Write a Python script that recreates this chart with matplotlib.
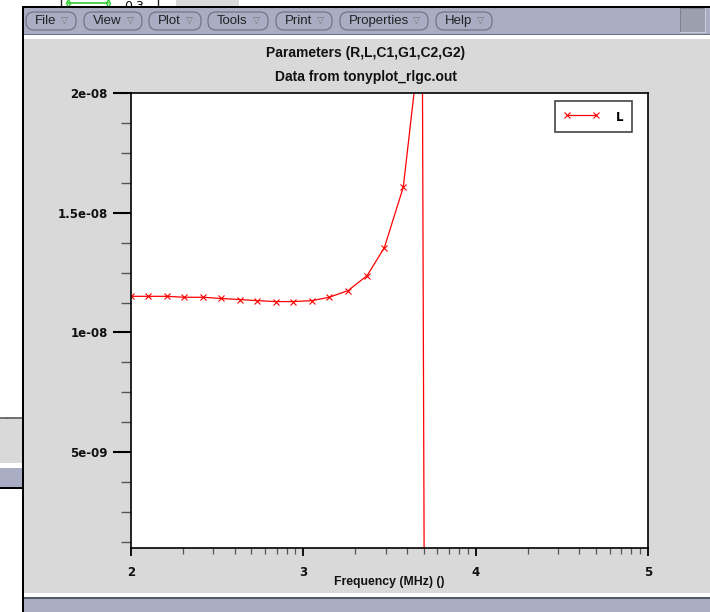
import matplotlib
matplotlib.use('Agg')
import matplotlib.pyplot as plt
from matplotlib.patches import Rectangle, FancyBboxPatch
from matplotlib.ticker import FixedLocator, MultipleLocator
import numpy as np

# ---------------- data ----------------
freq_mhz = [2.00, 2.10, 2.21, 2.31, 2.42, 2.52, 2.63, 2.73, 2.84, 2.94,
            3.05, 3.15, 3.26, 3.37, 3.47, 3.58, 3.69, 3.79]
L_values = [1.151e-8, 1.151e-8, 1.151e-8, 1.147e-8, 1.147e-8, 1.142e-8,
            1.1375e-8, 1.133e-8, 1.129e-8, 1.129e-8, 1.133e-8, 1.147e-8,
            1.175e-8, 1.2375e-8, 1.354e-8, 1.607e-8, 2.30e-8, -1.8e-7]
x_ticks = [2, 3, 4, 5]
x_tick_labels = ['2', '3', '4', '5']
y_ticks = [5e-9, 1e-8, 1.5e-8, 2e-8]
y_tick_labels = ['5e-09', '1e-08', '1.5e-08', '2e-08']
menu_items = ['File', 'View', 'Plot', 'Tools', 'Print', 'Properties', 'Help']
title_1 = 'Parameters (R,L,C1,G1,C2,G2)'
title_2 = 'Data from tonyplot_rlgc.out'
x_label = 'Frequency (MHz) ()'
series_label = 'L'

# ---------------- figure / chrome ----------------
W, H = 710, 612
fig = plt.figure(figsize=(W / 100, H / 100), dpi=100, facecolor='white')
bg = fig.add_axes([0, 0, 1, 1], zorder=0)
bg.set_xlim(0, W)
bg.set_ylim(H, 0)
bg.axis('off')

LAV = '#a9adc3'
GREY = '#d9d9d9'


def rect(x0, y0, x1, y1, color, z=1, **kw):
    bg.add_patch(Rectangle((x0, y0), x1 - x0, y1 - y0, facecolor=color,
                           edgecolor='none', zorder=z, **kw))


# stuff of a window behind (top-left)
bg.plot([61, 61], [0, 7], color='#222', lw=1, zorder=0.5)
bg.plot([68, 108], [3, 3], color='#33cc33', lw=1.2, zorder=0.5)
bg.plot([68, 108], [3, 3], ls='none', marker='d', ms=4, mfc='none',
        mec='#33cc33', zorder=0.5)
bg.text(124, 10, '0.3', fontsize=9, family='DejaVu Sans', va='baseline',
        color='#111', zorder=0.5)
bg.plot([158, 158], [0, 7], color='#222', lw=1, zorder=0.5)
rect(176, 0, 239, 7, GREY, z=0.5)

# left strip of another window
bg.plot([0, 22], [418, 418], color='#555', lw=1.2, zorder=0.5)
bg.plot([7, 7], [418, 424], color='#555', lw=1, zorder=0.5)
rect(0, 419, 22, 463, GREY, z=0.5)
rect(0, 468, 22, 487, LAV, z=0.5)
rect(0, 487, 22, 489, 'black', z=0.5)

# main window
rect(22, 6, W, H, GREY)
rect(22, 6, W, 8, 'black')
rect(22, 8, W, 33.5, LAV)
rect(22, 33.5, W, 35, '#6e7182')
rect(22, 35, W, 39, 'white')
rect(22, 593, W, 597, 'white')
rect(22, 597, W, 598.5, '#555866')
rect(22, 598.5, W, H, LAV)
rect(21.5, 6, 24, H, 'black')

# top-right square button
rect(680, 8, 706, 33, '#c9ccd8')
rect(680, 8, 705, 32, '#7d8192')
rect(681, 9, 705, 32, '#9aa0ae')

# menu buttons
btn_x = [(26, 76), (84, 142), (149, 201), (208, 268), (276, 332), (340, 428), (436, 492)]
for label, (x0, x1) in zip(menu_items, btn_x):
    bg.add_patch(FancyBboxPatch((x0, 12), x1 - x0, 18,
                                boxstyle='round,pad=0,rounding_size=8',
                                facecolor=LAV, edgecolor='#6c6f80', lw=0.8, zorder=2))
    bg.text(x0 + 9, 21, label, fontsize=9.5, family='Liberation Sans',
            color='#222', ha='left', va='center', zorder=3)
    bg.text(x1 - 12, 21.5, '\u25bd', fontsize=6.5, family='DejaVu Sans',
            color='#777', ha='center', va='center', zorder=3)

# titles and axis label
bg.text(366, 53, title_1, ha='center', va='center', fontsize=10,
        fontweight='bold', family='Liberation Sans', color='#111', zorder=3)
bg.text(366, 77, title_2, ha='center', va='center', fontsize=10,
        fontweight='bold', family='Liberation Sans', color='#111', zorder=3)
bg.text(389.5, 582, x_label, ha='center', va='center', fontsize=8.8,
        fontweight='bold', family='Liberation Sans', color='#111', zorder=3)

# ---------------- plot ----------------
ax = fig.add_axes([131 / W, (H - 548) / H, 517 / W, 455 / H], zorder=2)
ax.set_facecolor('white')
ax.plot(freq_mhz, L_values, color='#ff0000', lw=0.9, marker='x', ms=5,
        mew=0.8, label=series_label)
ax.set_xlim(2, 5)
ax.set_ylim(1e-9, 2e-8)

ax.set_xticks(x_ticks)
ax.set_xticklabels(x_tick_labels)
ax.xaxis.set_minor_locator(FixedLocator(
    [n + np.log10(k) for n in (2, 3, 4) for k in range(2, 10)]))
ax.set_yticks(y_ticks)
ax.set_yticklabels(y_tick_labels)
ax.yaxis.set_minor_locator(MultipleLocator(1.25e-9))

ax.tick_params(axis='y', which='major', direction='out', length=13, width=1.5,
               pad=3.6, labelsize=8.5, color='black')
ax.tick_params(axis='y', which='minor', direction='out', length=7.2, width=1.0,
               color='#555555')
ax.tick_params(axis='x', which='major', direction='out', length=6, width=1.3,
               pad=7, labelsize=8.5, color='black')
ax.tick_params(axis='x', which='minor', direction='out', length=4, width=0.9,
               color='#555555')
for lbl in ax.get_xticklabels() + ax.get_yticklabels():
    lbl.set_fontweight('bold')
    lbl.set_family('DejaVu Sans')
    lbl.set_color('#111')
for sp in ax.spines.values():
    sp.set_linewidth(1.2)
    sp.set_color('black')

leg = ax.legend(loc='upper left', bbox_to_anchor=(555 / W, 1 - 101 / H),
                bbox_transform=fig.transFigure, numpoints=2, handlelength=3.05,
                handletextpad=1.44, handleheight=1.55, borderpad=0.7,
                borderaxespad=0, fancybox=False, framealpha=1,
                edgecolor='#444444',
                prop={'family': 'DejaVu Sans', 'weight': 'bold', 'size': 8.5})
leg.get_frame().set_linewidth(1.2)

fig.savefig('out.png', dpi=100, facecolor='white')
